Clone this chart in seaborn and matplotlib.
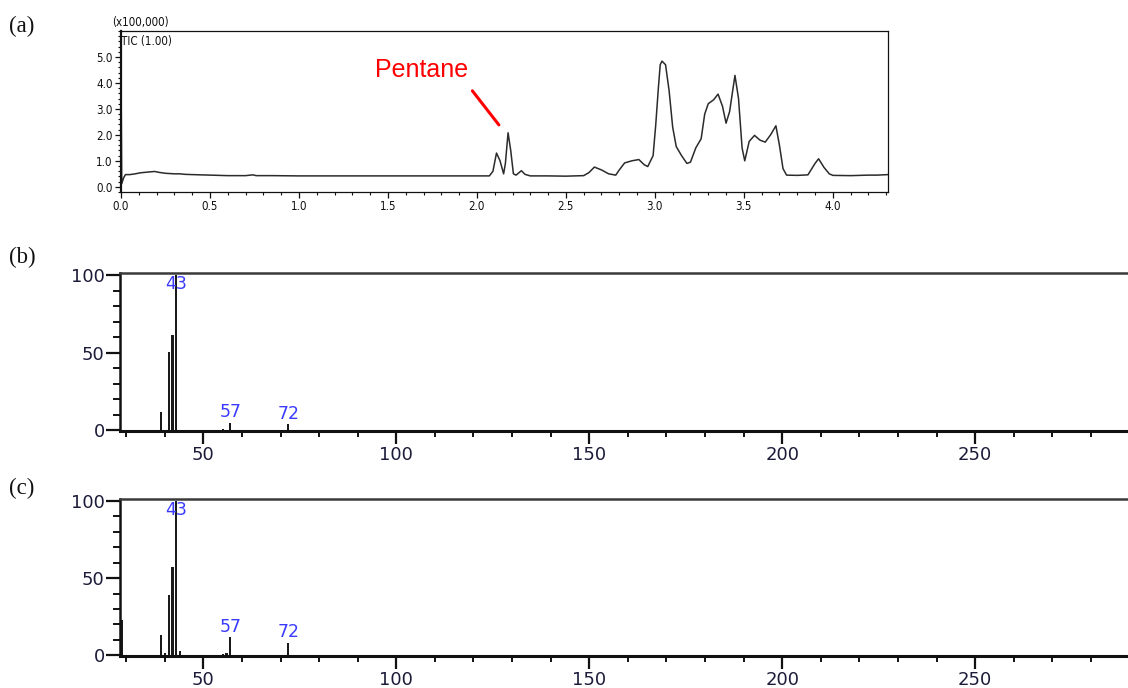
import numpy as np
import pandas as pd
import matplotlib
matplotlib.use("Agg")
import matplotlib.pyplot as plt
from matplotlib.ticker import MultipleLocator
import seaborn as sns

# ---------------- data ----------------
# (a) total ion chromatogram (x100,000 counts)
tic_time = [0.0, 0.004, 0.015, 0.025, 0.05, 0.08, 0.11, 0.14, 0.17, 0.19, 0.21,
            0.25, 0.30, 0.33, 0.36, 0.40, 0.45, 0.50, 0.55, 0.60, 0.70, 0.74,
            0.76, 0.85, 1.0, 1.2, 1.4, 1.6, 1.8, 2.0, 2.07, 2.09, 2.11, 2.13,
            2.15, 2.16, 2.175, 2.19, 2.205, 2.22, 2.25, 2.27, 2.30, 2.40, 2.50,
            2.60, 2.63, 2.66, 2.70, 2.74, 2.78, 2.80, 2.83, 2.87, 2.91, 2.94,
            2.96, 2.99, 3.005, 3.02, 3.03, 3.04, 3.06, 3.08, 3.10, 3.12, 3.15,
            3.18, 3.20, 3.23, 3.26, 3.28, 3.30, 3.33, 3.355, 3.38, 3.40, 3.42,
            3.45, 3.47, 3.49, 3.505, 3.53, 3.56, 3.59, 3.62, 3.65, 3.68, 3.70,
            3.72, 3.74, 3.80, 3.86, 3.90, 3.92, 3.95, 3.98, 4.0, 4.1, 4.2, 4.25,
            4.31]
tic_intensity = [4.6, 0.12, 0.35, 0.47, 0.47, 0.50, 0.54, 0.56, 0.58, 0.59, 0.56,
                 0.52, 0.50, 0.50, 0.48, 0.47, 0.46, 0.45, 0.44, 0.43, 0.43, 0.46,
                 0.43, 0.43, 0.42, 0.42, 0.42, 0.42, 0.42, 0.42, 0.42, 0.60, 1.30, 1.00,
                 0.50, 0.90, 2.08, 1.40, 0.50, 0.45, 0.62, 0.48, 0.42, 0.42, 0.41,
                 0.43, 0.55, 0.76, 0.65, 0.50, 0.45, 0.65, 0.92, 1.00, 1.05, 0.85,
                 0.78, 1.20, 2.40, 3.84, 4.70, 4.84, 4.70, 3.70, 2.30, 1.55, 1.20,
                 0.90, 0.95, 1.50, 1.85, 2.80, 3.20, 3.35, 3.57, 3.10, 2.45, 2.90,
                 4.29, 3.40, 1.50, 1.00, 1.75, 1.98, 1.80, 1.72, 2.00, 2.35, 1.60,
                 0.70, 0.45, 0.44, 0.46, 0.90, 1.08, 0.75, 0.50, 0.44, 0.43, 0.45, 0.45,
                 0.47]

# (b) mass spectrum of the pentane peak
mz_b = [39, 41, 42, 43, 55, 57, 72]
int_b = [11.4, 50.1, 61.5, 100, 1.0, 4.7, 3.7]
labels_b = {43: "43", 57: "57", 72: "72"}

# (c) library mass spectrum
mz_c = [29, 39, 40, 41, 42, 43, 44, 55, 56, 57, 72]
int_c = [23.2, 12.9, 1.7, 38.8, 57.0, 100, 2.6, 1.2, 1.5, 11.6, 8.2]
labels_c = {43: "43", 57: "57", 72: "72"}

panel_tags = ["(a)", "(b)", "(c)"]

# ---------------- style ----------------
sns.set_style("white")
plt.rcParams["font.family"] = ["Liberation Sans", "DejaVu Sans"]
SMALL = dict(family="DejaVu Sans", stretch="condensed", size=8.3)

fig = plt.figure(figsize=(11.28, 6.88), dpi=100)

# ---------------- (a) chromatogram ----------------
axa = fig.add_axes([121 / 1128, 1 - 192 / 688, 767 / 1128, 161 / 688])
tic_df = pd.DataFrame({"time": tic_time, "intensity": tic_intensity})
sns.lineplot(data=tic_df, x="time", y="intensity", ax=axa, color="#2b2b2b",
             linewidth=1.1, sort=False)
axa.set_xlim(0, 4.31)
axa.set_ylim(-0.2, 6.0)
axa.set_xlabel("")
axa.set_ylabel("")
axa.xaxis.set_minor_locator(MultipleLocator(0.1))
axa.yaxis.set_minor_locator(MultipleLocator(0.2))
axa.set_yticks([0, 1, 2, 3, 4, 5])
axa.set_yticklabels(["0.0", "1.0", "2.0", "3.0", "4.0", "5.0"])
axa.set_xticks([0, 0.5, 1.0, 1.5, 2.0, 2.5, 3.0, 3.5, 4.0])
axa.set_xticklabels(["0.0", "0.5", "1.0", "1.5", "2.0", "2.5", "3.0", "3.5", "4.0"])
axa.tick_params(axis="both", which="major", direction="out", length=4.5, width=0.9,
                pad=1.5, colors="#111111", bottom=True, left=True)
axa.tick_params(axis="both", which="minor", direction="out", length=2.5, width=0.8,
                bottom=True, left=True, colors="#111111")
for lab in axa.get_xticklabels() + axa.get_yticklabels():
    lab.set_fontfamily(SMALL["family"])
    lab.set_fontstretch(SMALL["stretch"])
    lab.set_fontsize(SMALL["size"])
for s in axa.spines.values():
    s.set_linewidth(0.9)
    s.set_color("#111111")
axa.spines["left"].set_linewidth(1.6)
axa.text(-0.052, 6.32, "(x100,000)", fontsize=SMALL["size"], family=SMALL["family"],
         fontstretch=SMALL["stretch"], ha="left", va="center", color="#111111")
axa.text(0.0, 5.85, "TIC (1.00)", fontsize=SMALL["size"], family=SMALL["family"],
         fontstretch=SMALL["stretch"], ha="left", va="top", color="#111111")
# Pentane annotation
axa.annotate("", xy=(2.133, 2.3), xytext=(1.965, 3.78),
             arrowprops=dict(arrowstyle="-", color="#ff0000", lw=2.2))
axa.text(1.69, 4.5, "Pentane", color="#ff0000", fontsize=18,
         ha="center", va="center")


def spectrum(ax, mz, inten, labels):
    sns.barplot(x=mz, y=inten, native_scale=True, color="#1a1a1a", saturation=1,
                width=0.55, errorbar=None, linewidth=0, ax=ax)
    ax.set_xlim(28.4, 289.6)
    ax.set_ylim(-0.4, 101.2)
    ax.set_xlabel("")
    ax.set_ylabel("")
    ax.xaxis.set_minor_locator(MultipleLocator(10))
    ax.yaxis.set_minor_locator(MultipleLocator(10))
    ax.set_xticks([50, 100, 150, 200, 250])
    ax.set_yticks([0, 50, 100])
    ax.tick_params(axis="x", which="major", direction="out", length=9, width=1.6,
                   labelsize=13, pad=2, bottom=True, colors="#111111")
    ax.tick_params(axis="x", which="minor", direction="out", length=4.5, width=1.4,
                   bottom=True, colors="#111111")
    ax.tick_params(axis="y", which="major", direction="out", length=10, width=1.6,
                   labelsize=13, pad=1, left=True, colors="#111111")
    ax.tick_params(axis="y", which="minor", direction="out", length=5, width=1.4,
                   left=True, colors="#111111")
    for lab in ax.get_xticklabels() + ax.get_yticklabels():
        lab.set_color("#1c1c3a")
        lab.set_fontfamily("DejaVu Sans")
    ax.spines["right"].set_visible(False)
    ax.spines["top"].set_linewidth(1.8)
    ax.spines["top"].set_color("#3a3a3a")
    ax.spines["left"].set_linewidth(1.8)
    ax.spines["left"].set_color("#111111")
    ax.spines["bottom"].set_linewidth(2.2)
    ax.spines["bottom"].set_color("#111111")
    for m, h in zip(mz, inten):
        if m in labels:
            ax.text(m, min(h + 1.0, 88.5), labels[m], color="#3b3bff",
                    fontsize=12.5, family="DejaVu Sans", ha="center", va="bottom")


axb = fig.add_axes([120 / 1128, 1 - 430.7 / 688, 1 - 120 / 1128, 157.4 / 688])
spectrum(axb, mz_b, int_b, labels_b)

axc = fig.add_axes([120 / 1128, 1 - 656 / 688, 1 - 120 / 1128, 157 / 688])
spectrum(axc, mz_c, int_c, labels_c)

# panel tags
for tag, ypx in zip(panel_tags, [26, 257, 488]):
    fig.text(9 / 1128, 1 - ypx / 688, tag, family="Liberation Serif", fontsize=16.5,
             ha="left", va="center", color="#111111")

fig.savefig("out.png", dpi=100)
